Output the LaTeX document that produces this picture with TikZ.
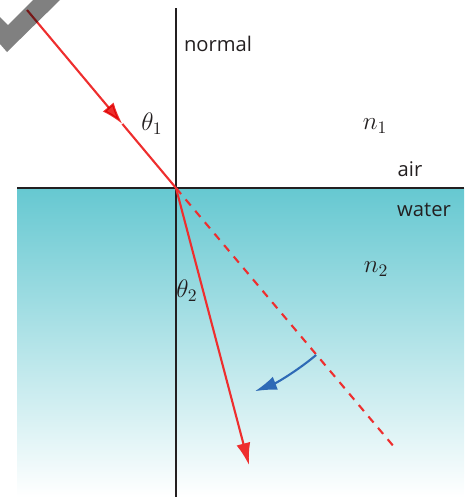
\documentclass[tikz,border=0pt]{standalone}
\usepackage{fontspec}
\setmainfont{Open Sans}
\usetikzlibrary{arrows.meta,calc}
\definecolor{rayRed}{HTML}{EE2E2E}
\definecolor{turnBlue}{HTML}{2E6AB6}
\definecolor{waterTeal}{HTML}{66C8D1}
\definecolor{lineInk}{HTML}{231F20}
\definecolor{lampGray}{HTML}{808080}

\begin{document}
\begin{tikzpicture}[x=0.02cm,y=-0.02cm,
  font=\fontsize{11.5}{13}\selectfont,
  >={Latex[length=12.5pt,width=8pt]},
  ray/.style={rayRed,line width=1.2pt},
  ghost/.style={rayRed,line width=1.2pt,dash pattern=on 4.5pt off 4pt},
  axis/.style={lineInk,line width=0.9pt},
  lbl/.style={text=lineInk,inner sep=0pt},
  sym/.style={text=lineInk,inner sep=0pt,font=\fontsize{14}{15}\selectfont},
]
\useasboundingbox (0,0) rectangle (469,497);
% water below the interface
\shade[top color=waterTeal,bottom color=white] (17,188) rectangle (464,497);
% lamp, cut off at the corner
\fill[lampGray] (0,44) -- (7,52) -- (60,0) -- (33,0) -- (8,25) -- (0,17) -- cycle;

\coordinate (O)    at (176,188);
\coordinate (top)  at (176,8);
\coordinate (bot)  at (176,497);
\coordinate (left) at (17,188);
\coordinate (right) at (464,188);
\coordinate (src)  at (27,10);
\coordinate (mid)  at ($(src)!0.64!(O)$);
\coordinate (refr) at (249,465);
\coordinate (strt) at (395,448);
\coordinate (bend) at ($(O)+(50:218)$);

% normal and interface
\draw[axis] (top) -- (bot);
\draw[axis,line width=1.4pt] (left) -- (right);

% incident ray, arrow half way
\begin{scope}[blend mode=multiply]
\draw[ray,->] (src) -- (mid);
\end{scope}
\draw[ray] (mid) -- (O);
% refracted ray and undeviated path
\draw[ray,->] (O) -- (refr);
\draw[ghost] (O) -- (strt);
% bending toward the normal
\draw[turnBlue,line width=1.2pt,->] (bend) arc[start angle=50,end angle=68.8,radius=218];

\node[lbl] (normal) at (218,44)  {normal};
\node[lbl] (air)    at (410,169) {air};
\node[lbl] (water)  at (424,210) {water};
\node[sym] (th1)    at (152,124) {$\theta_{1}$};
\node[sym] (th2)    at (187,291) {$\theta_{2}$};
\node[sym] (n1)     at (375,126) {$n_{1}$};
\node[sym] (n2)     at (376,269) {$n_{2}$};
\end{tikzpicture}
\end{document}
